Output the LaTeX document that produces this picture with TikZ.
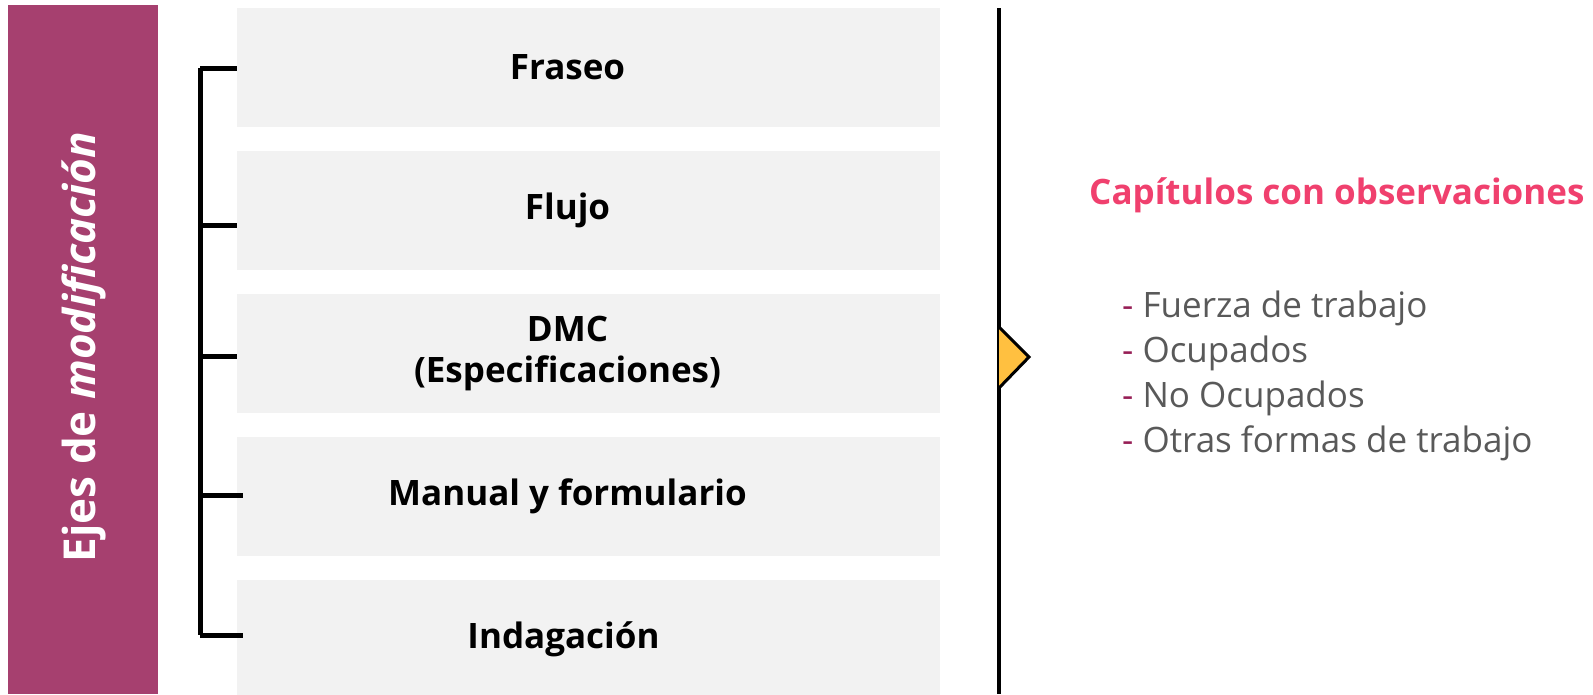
\documentclass[tikz,border=0pt]{standalone}
\usepackage{fontspec}
\setmainfont{Open Sans}
\usepackage{xcolor}
\usetikzlibrary{positioning}

\definecolor{barraeje}{RGB}{166,64,111}
\definecolor{caja}{RGB}{242,242,242}
\definecolor{rosa}{RGB}{240,64,110}
\definecolor{gristexto}{RGB}{89,89,89}
\definecolor{guion}{RGB}{150,30,85}
\definecolor{amarillo}{RGB}{255,192,64}

\begin{document}
\begin{tikzpicture}[x=1pt,y=-1pt,
  eje/.style={fill=caja,minimum width=703pt,minimum height=119pt,inner sep=0pt},
  rotulo/.style={align=center,inner sep=0pt,xshift=-21pt,
    font=\fontsize{35}{41}\selectfont\bfseries},
  llave/.style={line width=5pt}]
\useasboundingbox (0,0) rectangle (1593,694);

    % barra lateral
    \node[fill=barraeje,minimum width=150pt,minimum height=689pt,inner sep=0pt,
      anchor=north west] (barra) at (8,5) {};
    \node[rotate=90,text=white,font=\fontsize{44}{50}\selectfont\bfseries]
      (ejes) at (84,347) {Ejes de \textit{modificación}};

    % ejes
    \node[eje,label={[rotulo]center:Fraseo}] (fraseo) at (588.5,67.5) {};
    \node[eje,below=23.5pt of fraseo,label={[rotulo]center:Flujo}] (flujo) {};
    \node[eje,below=23.5pt of flujo,
      label={[rotulo]center:DMC\\(Especificaciones)}] (dmc) {};
    \node[eje,below=23.5pt of dmc,label={[rotulo]center:Manual y formulario}] (manual) {};
    \node[eje,below=23.5pt of manual,label={[rotulo,xshift=-4pt]center:Indagación}] (indagacion) {};

    % llave
    \coordinate (k1) at (200,68);
    \coordinate (k2) at (200,225);
    \coordinate (k3) at (200,356);
    \coordinate (k4) at (200,495);
    \coordinate (k5) at (200,635);
    \coordinate (k4e) at (243,495);
    \coordinate (k5e) at (243,635);
    \draw[llave] (k1) -- (k5);
    \draw[llave] (k1) -- (k1 -| fraseo.west);
    \draw[llave] (k2) -- (k2 -| flujo.west);
    \draw[llave] (k3) -- (k3 -| dmc.west);
    \draw[llave] (k4) -- (k4e);
    \draw[llave] (k5) -- (k5e);

    % separador
    \coordinate (sarriba) at (999,8);
    \coordinate (sabajo) at (999,694);
    \draw[line width=4pt] (sarriba) -- (sabajo);
    \draw[fill=amarillo,line width=3pt] (999,327) -- (1029,357) -- (999,388);

    % capitulos
    \node[anchor=west,inner sep=0pt,text=rosa,font=\fontsize{35}{40}\selectfont\bfseries]
      (titulo) at (1089,195) {Capítulos con observaciones};
    \node[anchor=west,inner sep=0pt,align=left,text=gristexto,
      font=\fontsize{35}{45}\selectfont] (lista) at (1122,376)
      {\textcolor{guion}{-} Fuerza de trabajo\\
       \textcolor{guion}{-} Ocupados\\
       \textcolor{guion}{-} No Ocupados\\
       \textcolor{guion}{-} Otras formas de trabajo};

\end{tikzpicture}
\end{document}
